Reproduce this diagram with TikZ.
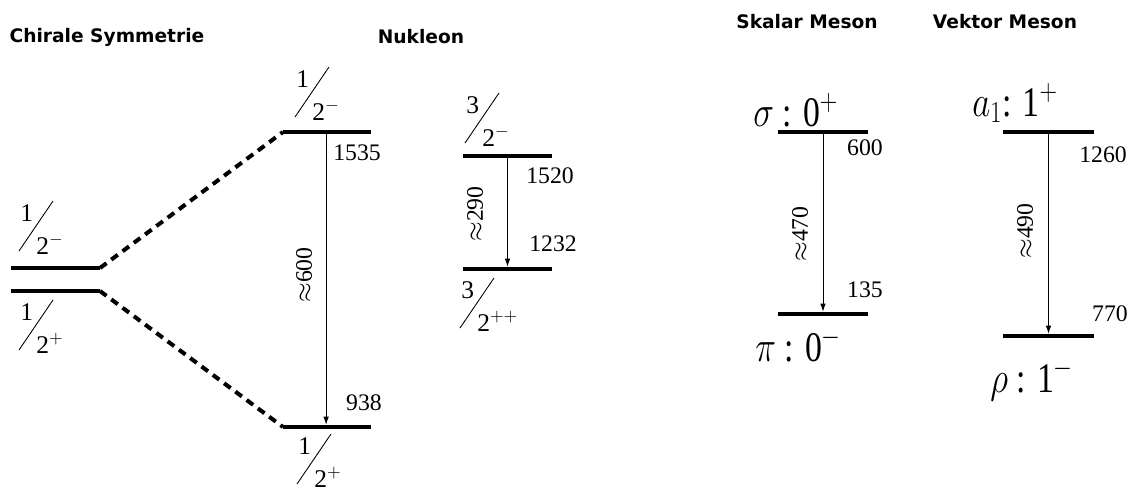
\documentclass[tikz,border=0pt]{standalone}
\usepackage{fontspec}
\setmainfont{Liberation Serif}
\newfontfamily\headfont{DejaVu Sans}
\usetikzlibrary{arrows.meta,calc}
\tikzset{
  >={Latex[length=1.6mm,width=1.1mm]},
  level/.style={line width=2.3pt},
  mixline/.style={line width=2.3pt,dash pattern=on 4.6pt off 3.4pt},
  trans/.style={->,line width=0.5pt,shorten >=1.3pt},
  head/.style={font=\headfont\bfseries\fontsize{10.6}{12}\selectfont},
  mass/.style={font=\fontsize{13.5}{15}\selectfont},
  gap/.style={font=\fontsize{13.5}{15}\selectfont,rotate=90},
  meson/.style={font=\fontsize{24}{26}\selectfont,anchor=base west,inner sep=0pt},
  fracdigit/.style={font=\fontsize{14.5}{16}\selectfont,anchor=base west,inner sep=0pt},
  pics/spin/.style n args={2}{code={
    \draw[line width=0.5pt] (0,0) -- (34,-50);
    \node[fracdigit] (-num) at (1,-30) {#1};
    \node[fracdigit] (-den) at (17,3) {2$^{#2}$};
  }},
}
\begin{document}
\begin{tikzpicture}[x=0.02cm,y=-0.02cm]
  \useasboundingbox (0,0) rectangle (1137,491);
  % headings
  \node[head] (hchiral) at (107,37) {Chirale Symmetrie};
  \node[head] (hnuk) at (421,37) {Nukleon};
  \node[head] (hskal) at (807,22) {Skalar Meson};
  \node[head] (hvek) at (1005,22) {Vektor Meson};
  % chiral partners
  \draw[level] (11,268) -- (100,268) coordinate (cminus);
  \draw[level] (11,291) -- (100,291) coordinate (cplus);
  \pic (sminus) at (19,251) {spin={1}{-}};
  \pic (splus) at (19,350) {spin={1}{+}};
  % nucleon 1535 / 938
  \draw[level] (283,132) coordinate (n1535w) -- coordinate[pos=.49] (n1535) (371,132);
  \draw[level] (283,427) coordinate (n938w) -- coordinate[pos=.49] (n938) (371,427);
  \draw[mixline] (cminus) -- (n1535w);
  \draw[mixline] (cplus) -- (n938w);
  \draw[trans] (n1535) -- (n938);
  \pic (s1535) at (295,117) {spin={1}{-}};
  \pic (s938) at (297,484) {spin={1}{+}};
  \node[mass] (m1535) at (357,153) {1535};
  \node[mass] (m938) at (364,403) {938};
  \node[gap] (g600) at (304,275) {$\approx$600};
  % 1520 / 1232
  \draw[level] (463,156) -- coordinate[pos=.5] (n1520) (552,156);
  \draw[level] (463,269) -- coordinate[pos=.5] (n1232) (552,269);
  \draw[trans] (n1520) -- (n1232);
  \pic (s1520) at (465,143) {spin={3}{-}};
  \pic (s1232) at (460,328) {spin={3}{++}};
  \node[mass] (m1520) at (550,176) {1520};
  \node[mass] (m1232) at (553,244) {1232};
  \node[gap] (g290) at (475,214) {$\approx$290};
  % scalar mesons
  \draw[level] (778,132) -- coordinate[pos=.5] (nsigma) (868,132);
  \draw[level] (778,314) -- coordinate[pos=.5] (npi) (868,314);
  \draw[trans] (nsigma) -- (npi);
  \node[meson] (lsigma) at (753,126) {\scalebox{.8}[1]{$\sigma$ : 0$^{+}$}};
  \node[meson] (lpi) at (755,361) {\scalebox{.8}[1]{$\pi$ : 0$^{-}$}};
  \node[mass] (m600) at (865,148) {600};
  \node[mass] (m135) at (865,290) {135};
  \node[gap] (g470) at (800,234) {$\approx$470};
  % vector mesons
  \draw[level] (1003,132) -- coordinate[pos=.5] (na1) (1094,132);
  \draw[level] (1003,336) -- coordinate[pos=.5] (nrho) (1094,336);
  \draw[trans] (na1) -- (nrho);
  \node[meson] (la1) at (972,116) {\scalebox{.8}[1]{$a_1$: 1$^{+}$}};
  \node[meson] (lrho) at (990,392) {\scalebox{.8}[1]{$\rho$ : 1$^{-}$}};
  \node[mass] (m1260) at (1103,155) {1260};
  \node[mass] (m770) at (1110,314) {770};
  \node[gap] (g490) at (1025,231) {$\approx$490};
\end{tikzpicture}
\end{document}
